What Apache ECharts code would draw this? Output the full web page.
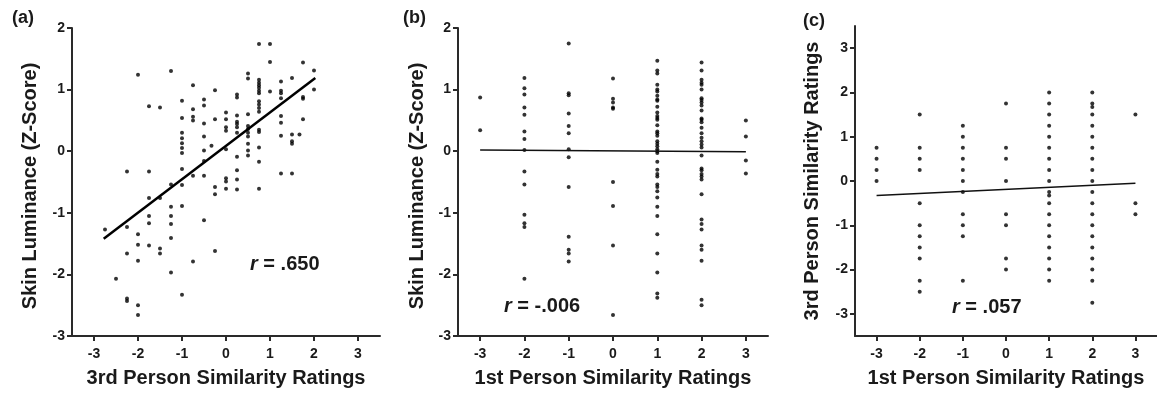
<!DOCTYPE html>
<html>
<head>
<meta charset="utf-8">
<script src="https://cdn.jsdelivr.net/npm/echarts@6/dist/echarts.min.js"></script>
<style>
  html, body { margin: 0; padding: 0; background: #fff; }
  #chart { width: 1157px; height: 396px; }
</style>
</head>
<body>
<div id="chart"></div>
<script>
// panel (a): 3rd person ratings vs skin luminance, grouped by x column
let aColX = [-2.75, -2.5, -2.25, -2, -1.75, -1.5, -1.25, -1, -0.75, -0.5, -0.33, -0.25, 0, 0.25, 0.5, 0.75, 1, 1.25, 1.5, 1.67, 1.75, 2];
let aColY = [
    [-1.27],
    [-2.07],
    [-0.33, -1.23, -1.66, -2.39, -2.43],
    [1.24, -1.35, -1.52, -1.78, -2.50, -2.66],
    [0.73, -0.33, -0.76, -1.05, -1.17, -1.53],
    [0.71, -0.76, -1.58, -1.66],
    [1.30, -0.54, -0.90, -1.05, -1.18, -1.41, -1.97],
    [0.82, 0.54, 0.30, 0.21, 0.13, 0.05, -0.03, -0.29, -0.55, -0.89, -2.33],
    [1.07, 0.68, 0.56, 0.50, -0.40, -1.79],
    [0.84, 0.74, 0.45, 0.24, 0.01, -0.16, -0.40, -1.12],
    [0.09],
    [0.99, 0.52, -0.58, -0.70, -1.62],
    [0.63, 0.52, 0.39, 0.33, 0.03, -0.44, -0.49, -0.61],
    [0.92, 0.87, 0.58, 0.48, 0.44, 0.39, 0.30, -0.09, -0.31, -0.46, -0.62],
    [1.26, 1.18, 0.60, 0.41, 0.36, 0.30, 0.24, 0.12, 0.01, -0.07],
    [1.74, 1.16, 1.11, 1.07, 1.03, 0.98, 0.94, 0.81, 0.76, 0.70, 0.64, 0.35, 0.31, 0.06, -0.17, -0.61],
    [1.74, 1.45, 0.97],
    [1.13, 0.98, 0.94, 0.86, 0.57, 0.46, 0.25, -0.36],
    [1.19, 0.27, 0.16, 0.12, -0.36],
    [0.27],
    [1.44, 0.88, 0.85, 0.52],
    [1.31, 1.0]
];
let aLineX = [-2.78, 2.03];
let aLineY = [-1.42, 1.19];

// panel (b): 1st person ratings vs skin luminance
let bColX = [-3, -2, -1, 0, 1, 2, 3];
let bColY = [
    [0.87, 0.34],
    [1.19, 1.02, 0.92, 0.71, 0.59, 0.32, 0.20, 0.02, -0.33, -0.54, -1.03, -1.17, -1.23, -2.07],
    [1.75, 0.94, 0.91, 0.61, 0.41, 0.29, 0.03, -0.10, -0.58, -1.39, -1.60, -1.66, -1.79],
    [1.18, 0.85, 0.79, 0.71, 0.69, -0.50, -0.89, -1.53, -2.66],
    [1.47, 1.31, 1.26, 1.08, 1.00, 0.97, 0.90, 0.84, 0.82, 0.72, 0.63, 0.57, 0.54, 0.51, 0.42, 0.32, 0.29, 0.25, 0.16, 0.12, 0.08, 0.03, 0.00, -0.03, -0.17, -0.30, -0.37, -0.41, -0.54, -0.58, -0.65, -0.75, -0.90, -1.05, -1.35, -1.66, -1.97, -2.31, -2.38],
    [1.44, 1.31, 1.16, 1.11, 1.08, 1.00, 0.86, 0.83, 0.79, 0.74, 0.66, 0.53, 0.51, 0.47, 0.38, 0.29, 0.22, 0.16, 0.11, 0.06, -0.07, -0.28, -0.31, -0.37, -0.41, -0.46, -0.70, -1.11, -1.18, -1.27, -1.53, -1.60, -1.78, -2.41, -2.50],
    [0.50, 0.24, -0.15, -0.36]
];
let bLineX = [-3, 3];
let bLineY = [0.02, -0.01];

// panel (c): 1st person ratings vs 3rd person ratings
let cColX = [-3, -2, -1, 0, 1, 2, 3];
let cColY = [
    [0.75, 0.5, 0.25, 0],
    [1.5, 0.75, 0.5, 0.25, -0.5, -1, -1.25, -1.5, -1.75, -2.25, -2.5],
    [1.25, 1, 0.75, 0.5, 0.25, 0, -0.25, -0.75, -1, -1.25, -2.25],
    [1.75, 0.75, 0.5, 0, -0.75, -1, -1.75, -2],
    [2, 1.75, 1.5, 1.25, 1, 0.75, 0.5, 0.25, 0, -0.25, -0.33, -0.5, -0.75, -1, -1.25, -1.5, -1.75, -2, -2.25],
    [2, 1.75, 1.67, 1.5, 1.25, 1, 0.75, 0.5, 0.25, 0, -0.25, -0.5, -0.75, -1, -1.25, -1.5, -1.75, -2, -2.25, -2.75],
    [1.5, -0.5, -0.75]
];
let cLineX = [-3, 3];
let cLineY = [-0.33, -0.05];

let tickVals = [-3, -2, -1, 0, 1, 2, 3];
let panelLabels = ['(a)', '(b)', '(c)'];
let rTexts = ['.650', '-.006', '.057'];

let font = '"Liberation Sans", Arial, sans-serif';
let ink = '#1a1a1a';

function to_points(colX, colY)
{
    let pts = [];
    for (let [i, x] of colX.entries())
    {
        colY[i].forEach(y => pts.push([x, y]));
    }
    return pts;
}

function to_line(xs, ys)
{
    return xs.map((x, i) => [x, ys[i]]);
}

function make_axis(idx, min, max, name, nameGap, custom, interval, isY, nudge)
{
    let axis = {
        gridIndex: idx,
        type: 'value',
        min: min,
        max: max,
        name: name,
        nameLocation: 'middle',
        nameGap: nameGap,
        nameTextStyle: { fontFamily: font, fontSize: 20, fontWeight: 'bold', color: ink },
        splitLine: { show: false },
        axisLine: { show: true, onZero: false, lineStyle: { color: '#2a2a2a', width: 2 } },
        axisTick: { show: true, length: 5, lineStyle: { color: '#2a2a2a', width: 2 } },
        axisLabel: { fontFamily: font, fontSize: 14, fontWeight: 'bold', color: ink, margin: isY ? 7 : 11 }
    };
    if (nudge)
    {
        // nudge the rotated title a little downward
        axis.nameTextStyle.padding = [0, nudge, 0, 0];
    }
    if (custom)
    {
        axis.axisTick.customValues = custom;
        axis.axisLabel.customValues = custom;
    }
    else
    {
        axis.interval = interval;
    }
    return axis;
}

let chart = echarts.init(document.getElementById('chart'), null, { renderer: 'canvas' });

let dotStyle = { color: '#000' };

let option = {
    animation: false,
    backgroundColor: '#fff',
    grid: [
        { left: 72, top: 28, width: 308, height: 308 },
        { left: 458, top: 28, width: 310, height: 308 },
        { left: 855, top: 26, width: 309, height: 310 }
    ],
    xAxis: [
        make_axis(0, -3.5, 3.5, '3rd Person Similarity Ratings', 32, tickVals),
        make_axis(1, -3.5, 3.5, '1st Person Similarity Ratings', 32, tickVals),
        make_axis(2, -3.5, 3.5, '1st Person Similarity Ratings', 32, tickVals)
    ],
    yAxis: [
        make_axis(0, -3, 2, 'Skin Luminance (Z-Score)', 32, null, 1, true, 8),
        make_axis(1, -3, 2, 'Skin Luminance (Z-Score)', 31, null, 1, true, 8),
        make_axis(2, -3.5, 3.5, '3rd Person Similarity Ratings', 33, tickVals, null, true, 0)
    ],
    series: [
        { type: 'scatter', xAxisIndex: 0, yAxisIndex: 0, symbolSize: 4, itemStyle: dotStyle, data: to_points(aColX, aColY) },
        { type: 'scatter', xAxisIndex: 1, yAxisIndex: 1, symbolSize: 4, itemStyle: dotStyle, data: to_points(bColX, bColY) },
        { type: 'scatter', xAxisIndex: 2, yAxisIndex: 2, symbolSize: 4, itemStyle: dotStyle, data: to_points(cColX, cColY) },
        { type: 'line', xAxisIndex: 0, yAxisIndex: 0, symbol: 'none', lineStyle: { color: '#000', width: 2.5 }, data: to_line(aLineX, aLineY) },
        { type: 'line', xAxisIndex: 1, yAxisIndex: 1, symbol: 'none', lineStyle: { color: '#111', width: 1.5 }, data: to_line(bLineX, bLineY) },
        { type: 'line', xAxisIndex: 2, yAxisIndex: 2, symbol: 'none', lineStyle: { color: '#111', width: 1.5 }, data: to_line(cLineX, cLineY) }
    ],
    graphic: [
        { type: 'text', left: 12, top: 9, style: { text: panelLabels[0], font: 'bold 18px ' + font, fill: ink } },
        { type: 'text', left: 403, top: 9, style: { text: panelLabels[1], font: 'bold 18px ' + font, fill: ink } },
        { type: 'text', left: 803, top: 12, style: { text: panelLabels[2], font: 'bold 18px ' + font, fill: ink } },
        { type: 'text', left: 250, top: 254, style: { text: '{i|r} = ' + rTexts[0], font: 'bold 20px ' + font, fill: ink,
            rich: { i: { fontStyle: 'italic', fontWeight: 'bold', fontSize: 20, fontFamily: font, fill: ink } } } },
        { type: 'text', left: 504, top: 296, style: { text: '{i|r} = ' + rTexts[1], font: 'bold 20px ' + font, fill: ink,
            rich: { i: { fontStyle: 'italic', fontWeight: 'bold', fontSize: 20, fontFamily: font, fill: ink } } } },
        { type: 'text', left: 952, top: 297, style: { text: '{i|r} = ' + rTexts[2], font: 'bold 20px ' + font, fill: ink,
            rich: { i: { fontStyle: 'italic', fontWeight: 'bold', fontSize: 20, fontFamily: font, fill: ink } } } }
    ]
};

chart.setOption(option);
</script>
</body>
</html>
